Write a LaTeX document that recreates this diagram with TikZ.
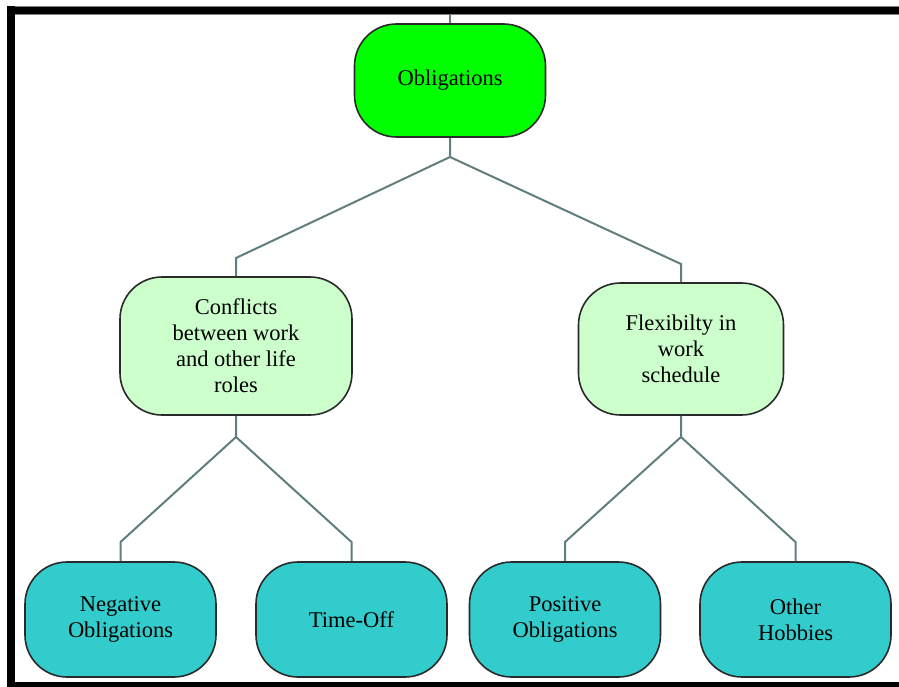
\documentclass[tikz,border=0pt]{standalone}
\usepackage{fontspec}
\setmainfont{Liberation Serif}
\definecolor{topgreen}{HTML}{00FF00}
\definecolor{midgreen}{HTML}{CCFFCC}
\definecolor{leafteal}{HTML}{33CCCC}
\definecolor{linkgray}{HTML}{5F7F7F}
\definecolor{edgegray}{HTML}{2A2A2A}
\begin{document}
\begin{tikzpicture}[x=1pt,y=-1pt,
  box/.style={draw=edgegray, line width=1.6pt, rounded corners=42pt, align=center,
    font=\fontsize{22.5}{26}\selectfont, text=black, inner sep=0pt},
  topbox/.style={box, fill=topgreen, minimum width=191pt, minimum height=113pt},
  midbox/.style={box, fill=midgreen},
  leafbox/.style={box, fill=leafteal, minimum width=191pt, minimum height=115pt},
  link/.style={draw=linkgray, line width=2pt}
]
\useasboundingbox (0,0) rectangle (899,687);
\fill[white] (0,0) rectangle (899,687);
% frame
\fill[black] (7,6) rectangle (15,687);
\fill[black] (7,6) rectangle (899,15);
\fill[black] (7,682) rectangle (899,687);
\draw[gray, line width=0.8pt] (15,6.4) -- (899,6.4);
\draw[gray, line width=0.8pt] (15,14.6) -- (899,14.6);

% nodes
\node[topbox] (ob) at (450,80.5) {Obligations};
\node[midbox, minimum width=232pt, minimum height=138pt] (cf) at (236,346) {Conflicts\\between work\\and other life\\roles};
\node[midbox, minimum width=205pt, minimum height=132pt] (fx) at (681,349) {Flexibilty in\\work\\schedule};
\node[leafbox] (ng) at (120.5,619.5) {Negative\\Obligations};
\node[leafbox] (to) at (351.5,619.5) {Time-Off};
\node[leafbox] (po) at (565,619.5) {Positive\\Obligations};
\node[leafbox] (oh) at (795.5,619.5) {Other\\Hobbies};

% connectors
\coordinate (tp) at (450,15);
\coordinate (j1) at (450,157);
\coordinate (j2) at (236,437);
\coordinate (j3) at (681,437);
\draw[link] (ob.north) -- (tp);
\draw[link] (ob.south) -- (j1) -- (cf.north |- 0,258) -- (cf.north);
\draw[link] (j1) -- (fx.north |- 0,264) -- (fx.north);
\draw[link] (cf.south) -- (j2) -- (ng.north |- 0,542) -- (ng.north);
\draw[link] (j2) -- (to.north |- 0,542) -- (to.north);
\draw[link] (fx.south) -- (j3) -- (po.north |- 0,542) -- (po.north);
\draw[link] (j3) -- (oh.north |- 0,542) -- (oh.north);
\end{tikzpicture}
\end{document}
